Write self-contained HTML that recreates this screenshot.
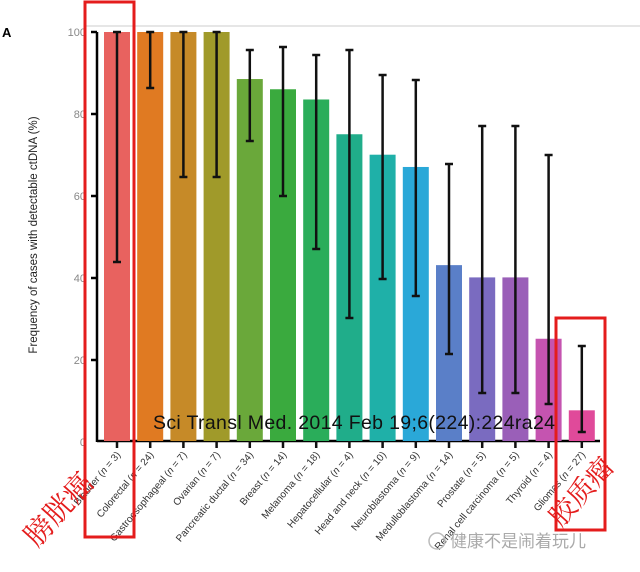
<!DOCTYPE html>
<html><head><meta charset="utf-8"><style>
html,body{margin:0;padding:0;background:#fff;width:640px;height:572px;overflow:hidden}
</style></head><body>
<svg width="640" height="572" viewBox="0 0 640 572" xmlns="http://www.w3.org/2000/svg" font-family="Liberation Sans, sans-serif">
<line x1="85" y1="26" x2="640" y2="26" stroke="#ccc" stroke-width="1"/>
<text x="2" y="37" font-size="13" font-weight="bold">A</text>
<text transform="translate(37,235) rotate(-90)" text-anchor="middle" font-size="11.5" fill="#222">Frequency of cases with detectable ctDNA (%)</text>
<g font-size="11" fill="#888" text-anchor="end">
<text x="86" y="36">100</text><text x="86" y="118">80</text><text x="86" y="200">60</text><text x="86" y="282">40</text><text x="86" y="364">20</text><text x="86" y="446">0</text>
</g>
<g stroke="#000" stroke-width="2.5">
<line x1="97" y1="32" x2="97" y2="442"/>
<line x1="91" y1="32" x2="97" y2="32"/><line x1="91" y1="114" x2="97" y2="114"/><line x1="91" y1="196" x2="97" y2="196"/><line x1="91" y1="278" x2="97" y2="278"/><line x1="91" y1="360" x2="97" y2="360"/>
<line x1="97" y1="441" x2="600" y2="441"/>
</g>
<g id="bars"></g>
<text x="354" y="429" font-size="19.5" text-anchor="middle" fill="#111" textLength="402">Sci Transl Med. 2014 Feb 19;6(224):224ra24</text>
<g id="labels" font-size="10" fill="#333"></g>
<rect x="85" y="2" width="49" height="535" fill="none" stroke="#e41c1c" stroke-width="3"/>
<rect x="556" y="318" width="49" height="212" fill="none" stroke="#e41c1c" stroke-width="3"/>
<text transform="translate(66,516) rotate(-48)" text-anchor="middle" font-size="29" fill="#e41c1c" font-family="Liberation Serif, Noto Serif CJK SC, serif">膀胱癌</text>
<text transform="translate(588,498) rotate(-48)" text-anchor="middle" font-size="27" fill="#e41c1c" font-family="Liberation Serif, Noto Serif CJK SC, serif">胶质瘤</text>
<text x="450" y="547" font-size="17" fill="#aaa" font-family="Noto Sans CJK SC, sans-serif">健康不是闹着玩儿</text>
<circle cx="437" cy="541" r="8" fill="none" stroke="#bbb" stroke-width="1.5"/>
</svg>
<script>
const d=[["Bladder",3,100,32,262,"#e8625f"],["Colorectal",24,100,32,88,"#e07a22"],["Gastroesophageal",7,100,32,177,"#c68a28"],["Ovarian",7,100,32,177,"#a09a2a"],["Pancreatic ductal",34,88.5,50,141,"#6aa83a"],["Breast",14,86,47,196,"#3aaa3e"],["Melanoma",18,83.5,55,249,"#2aad5a"],["Hepatocellular",4,75,50,318,"#20ad8a"],["Head and neck",10,70,75,279,"#1fb0a8"],["Neuroblastoma",9,67,80,296,"#2aa8d8"],["Medulloblastoma",14,43,164,354,"#5a7fc8"],["Prostate",5,40,126,393,"#7a6bc0"],["Renal cell carcinoma",5,40,126,393,"#9a5fb8"],["Thyroid",4,25,155,404,"#c554b0"],["Gliomas",27,7.5,346,432,"#e04a9a"]];
const ns="http://www.w3.org/2000/svg";const b=document.getElementById("bars"),l=document.getElementById("labels");
function el(t,a,p){const e=document.createElementNS(ns,t);for(const k in a)e.setAttribute(k,a[k]);p.appendChild(e);return e}
d.forEach((r,i)=>{const c=117+i*33.2;const top=441-r[2]*4.09;
el("rect",{x:c-13,y:top,width:26,height:441-top,fill:r[5]},b);
el("line",{x1:c,y1:r[3],x2:c,y2:r[4],stroke:"#111","stroke-width":2.5},b);
el("line",{x1:c-4,y1:r[3],x2:c+4,y2:r[3],stroke:"#111","stroke-width":2.5},b);
el("line",{x1:c-4,y1:r[4],x2:c+4,y2:r[4],stroke:"#111","stroke-width":2.5},b);
el("line",{x1:c,y1:441,x2:c,y2:448,stroke:"#111","stroke-width":2.5},b);
const t=el("text",{transform:`translate(${c+4},${455}) rotate(-50)`,"text-anchor":"end"},l);
t.innerHTML=r[0]+" (<tspan font-style='italic'>n</tspan> = "+r[1]+")";});
</script>
</body></html>
